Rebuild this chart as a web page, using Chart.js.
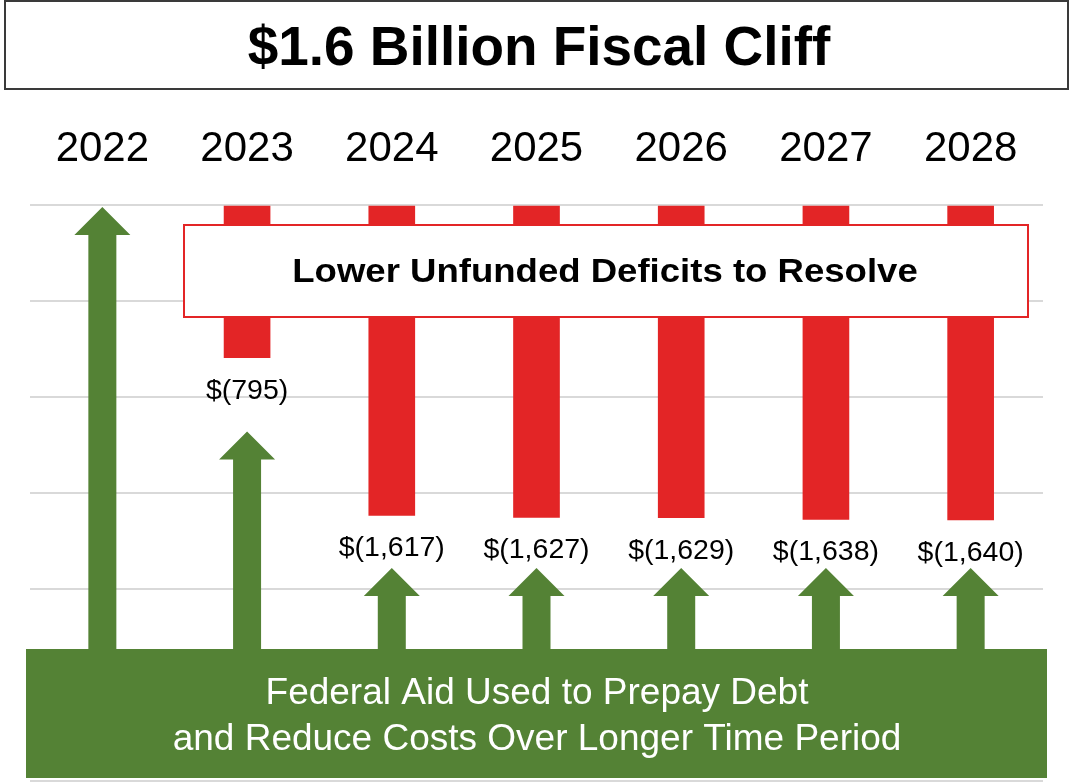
<!DOCTYPE html>
<html><head><meta charset="utf-8">
<script src="https://cdn.jsdelivr.net/npm/chart.js@4.4.1/dist/chart.umd.min.js"></script>
<style>html,body{margin:0;padding:0;background:#fff;overflow:hidden}#wrap{width:1071px;height:783px;position:relative}</style>
</head><body><div id="wrap"><canvas id="c" width="1071" height="783"></canvas></div>
<script>
// ---- data ----
const years = ['2022', '2023', '2024', '2025', '2026', '2027', '2028'];
const deficits = [null, -795, -1617, -1627, -1629, -1638, -1640];
const deficitLabels = ['', '$(795)', '$(1,617)', '$(1,627)', '$(1,629)', '$(1,638)', '$(1,640)'];
const aidArrowTips = [-10, -1180, -1890, -1890, -1890, -1890, -1890];
const yMin = -3000, yMax = 0, yStep = 500;
const titleText = '$1.6 Billion Fiscal Cliff';
const deficitNote = 'Lower Unfunded Deficits to Resolve';
const aidNote = ['Federal Aid Used to Prepay Debt', 'and Reduce Costs Over Longer Time Period'];

const FONT = '"Liberation Sans", Arial, Helvetica, sans-serif';
const RED = '#E32526', GREEN = '#548235';

function scaledText(ctx, text, x, y, sx) {
  ctx.save();
  ctx.translate(x, y);
  ctx.scale(sx, 1);
  ctx.fillText(text, 0, 0);
  ctx.restore();
}

const overlay = {
  id: 'overlay',
  afterDatasetsDraw(chart) {
    const ctx = chart.ctx;
    const xs = chart.scales.x, ys = chart.scales.y;
    const meta = chart.getDatasetMeta(0);
    ctx.save();
    ctx.textAlign = 'center';
    ctx.textBaseline = 'alphabetic';
    // value labels under red bars
    ctx.fillStyle = '#000';
    ctx.font = '28.5px ' + FONT;
    meta.data.forEach((bar, i) => {
      if (deficits[i] == null) return;
      ctx.fillText(deficitLabels[i], bar.x, bar.y + 41);
    });
    // deficit note box
    ctx.fillStyle = '#fff';
    ctx.fillRect(184, 225, 844, 92);
    ctx.strokeStyle = RED; ctx.lineWidth = 2;
    ctx.strokeRect(184, 225, 844, 92);
    ctx.fillStyle = '#000';
    ctx.font = 'bold 34px ' + FONT;
    scaledText(ctx, deficitNote, 605, 282, 1.075);
    // green arrows
    const boxTop = 649;
    ctx.fillStyle = GREEN;
    aidArrowTips.forEach((v, i) => {
      const x = xs.getPixelForValue(i);
      const tip = ys.getPixelForValue(v);
      ctx.beginPath();
      ctx.moveTo(x, tip);
      ctx.lineTo(x + 28, tip + 28);
      ctx.lineTo(x + 14, tip + 28);
      ctx.lineTo(x + 14, boxTop + 1);
      ctx.lineTo(x - 14, boxTop + 1);
      ctx.lineTo(x - 14, tip + 28);
      ctx.lineTo(x - 28, tip + 28);
      ctx.closePath();
      ctx.fill();
    });
    // green box
    ctx.fillRect(26, boxTop, 1021, 129);
    ctx.fillStyle = '#fff';
    ctx.font = '37px ' + FONT;
    ctx.fillText(aidNote[0], 537, 704);
    ctx.fillText(aidNote[1], 537, 750);
    // title box
    ctx.strokeStyle = '#3a3a3a'; ctx.lineWidth = 2;
    ctx.strokeRect(5, 1, 1063, 88);
    ctx.fillStyle = '#000';
    ctx.font = 'bold 56px ' + FONT;
    scaledText(ctx, titleText, 539, 65, 0.98);
    ctx.restore();
  }
};

new Chart(document.getElementById('c'), {
  type: 'bar',
  data: {
    labels: years,
    datasets: [{ data: deficits, backgroundColor: RED, barThickness: 46 }]
  },
  options: {
    responsive: false,
    animation: false,
    devicePixelRatio: 1,
    layout: { padding: { top: 100, left: 30, right: 28, bottom: 2 } },
    plugins: { legend: { display: false }, tooltip: { enabled: false } },
    scales: {
      x: {
        position: 'top',
        grid: { display: false, drawTicks: false },
        border: { display: false },
        ticks: { color: '#000', font: { size: 42, family: FONT }, padding: 30, maxRotation: 0, autoSkip: false },
        afterFit(s) { s.height = 105; }
      },
      y: {
        min: yMin, max: yMax,
        ticks: { display: false, stepSize: yStep },
        grid: { color: '#d9d9d9', lineWidth: 2, drawTicks: false },
        border: { display: false },
        afterFit(s) { s.width = 0; }
      }
    }
  },
  plugins: [overlay]
});
</script></body></html>
